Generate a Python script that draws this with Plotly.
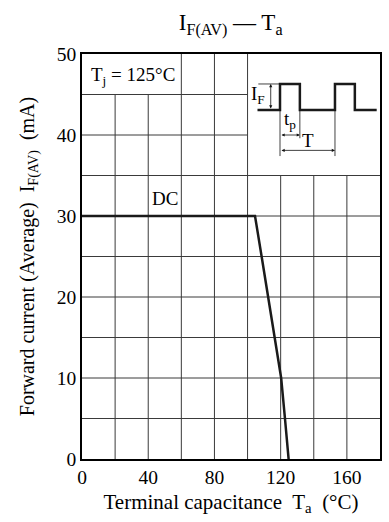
import plotly.graph_objects as go

# ---- data ----
ta_dc = [0, 104.5, 108.5, 112.5, 116.5, 120.3, 122.6, 124.8]
if_dc = [30, 30, 25, 20, 15, 10, 5, 0]

x_ticks = [0, 40, 80, 120, 160]
y_ticks = [0, 10, 20, 30, 40, 50]
x_grid = [20, 40, 60, 80, 100, 120, 140, 160]
y_grid = [5, 10, 15, 20, 25, 30, 35, 40, 45]

# inset pulse waveform (schematic, in chart units)
pulse_x = [106, 119.6, 119.6, 131.6, 131.6, 152.8, 152.8, 164.8, 164.8, 178]
pulse_y = [43.1, 43.1, 46.3, 46.3, 43.1, 43.1, 46.3, 46.3, 43.1, 43.1]

FONT = "Liberation Serif"
GRID = "#3a3a3a"

fig = go.Figure()

# grid lines (partial, as in the reference)
shapes = []
for gx in x_grid:
    if gx in (20, 40):
        y1 = 45
    elif gx >= 120:
        y1 = 35
    else:
        y1 = 50
    shapes.append(dict(type="line", xref="x", yref="y", x0=gx, x1=gx, y0=0, y1=y1,
                       line=dict(color=GRID, width=1), layer="below"))
for gy in y_grid:
    x1 = 100 if gy > 35 else 180
    shapes.append(dict(type="line", xref="x", yref="y", x0=0, x1=x1, y0=gy, y1=gy,
                       line=dict(color=GRID, width=1), layer="below"))

# inset helper lines
thin = dict(color="#111111", width=0.8)
shapes += [
    dict(type="line", xref="x", yref="y", x0=106.5, x1=119.6, y0=46.3, y1=46.3, line=thin),
    dict(type="line", xref="x", yref="y", x0=119.6, x1=119.6, y0=43.1, y1=37.4, line=thin),
    dict(type="line", xref="x", yref="y", x0=131.6, x1=131.6, y0=43.1, y1=39.6, line=thin),
    dict(type="line", xref="x", yref="y", x0=152.8, x1=152.8, y0=43.1, y1=37.4, line=thin),
]

fig.add_trace(go.Scatter(x=ta_dc, y=if_dc, mode="lines",
                         line=dict(color="#1a1a1a", width=2.5), hoverinfo="skip",
                         showlegend=False))
fig.add_trace(go.Scatter(x=pulse_x, y=pulse_y, mode="lines",
                         line=dict(color="#1a1a1a", width=2.5), hoverinfo="skip",
                         showlegend=False))

txt = dict(family=FONT, size=19, color="black")
annotations = [
    dict(x=31, y=47.3, xref="x", yref="y", text="T<sub>j</sub> = 125°C", showarrow=False, font=txt),
    dict(x=50, y=32.2, xref="x", yref="y", text="DC", showarrow=False, font=txt),
    dict(x=106.3, y=45.0, xref="x", yref="y", text="I<sub>F</sub>", showarrow=False, font=txt),
    dict(x=125.5, y=41.8, xref="x", yref="y", text="t<sub>p</sub>", showarrow=False, font=txt),
    dict(x=136.5, y=39.3, xref="x", yref="y", text="T", showarrow=False, font=txt),
]
# arrows
arrow_common = dict(xref="x", yref="y", axref="x", ayref="y", text="", showarrow=True,
                    arrowhead=2, arrowsize=0.8, arrowwidth=0.8, arrowcolor="#111111",
                    arrowside="end+start", standoff=0, startstandoff=0)
annotations += [
    dict(x=114, y=46.3, ax=114, ay=43.1, **arrow_common),
    dict(x=131.6, y=40.0, ax=119.6, ay=40.0, **arrow_common),
    dict(x=152.8, y=38.1, ax=119.6, ay=38.1, **arrow_common),
]

fig.update_layout(
    width=389, height=522,
    margin=dict(l=82, r=9, t=54, b=63, autoexpand=False),
    paper_bgcolor="white", plot_bgcolor="white",
    font=dict(family=FONT, size=19, color="black"),
    title=dict(text="I<sub>F(AV)</sub> — T<sub>a</sub>", x=0.593, xanchor="center",
               y=1 - 22 / 522, yanchor="middle",
               font=dict(family=FONT, size=23, color="black")),
    shapes=shapes,
    annotations=annotations,
    xaxis=dict(range=[0, 180], tickvals=x_ticks, showgrid=False, zeroline=False,
               showline=True, mirror=True, linecolor="black", linewidth=1.5,
               ticks="", ticklen=0, tickfont=dict(family=FONT, size=19.5), automargin=False,
               title=dict(text="Terminal capacitance  T<sub>a</sub>  (°C)", standoff=7,
                          font=dict(family=FONT, size=21))),
    yaxis=dict(range=[0, 50], tickvals=y_ticks, showgrid=False, zeroline=False,
               showline=True, mirror=True, linecolor="black", linewidth=1.5,
               ticks="", ticklen=0, tickfont=dict(family=FONT, size=19.5), automargin=False,
               title=dict(text="Forward current (Average)  I<sub>F(AV)</sub>  (mA)", standoff=17,
                          font=dict(family=FONT, size=20))),
)

fig.write_html("out.html", config={"displayModeBar": False},
               post_script="document.body.style.margin='0';document.body.style.overflow='hidden';")
